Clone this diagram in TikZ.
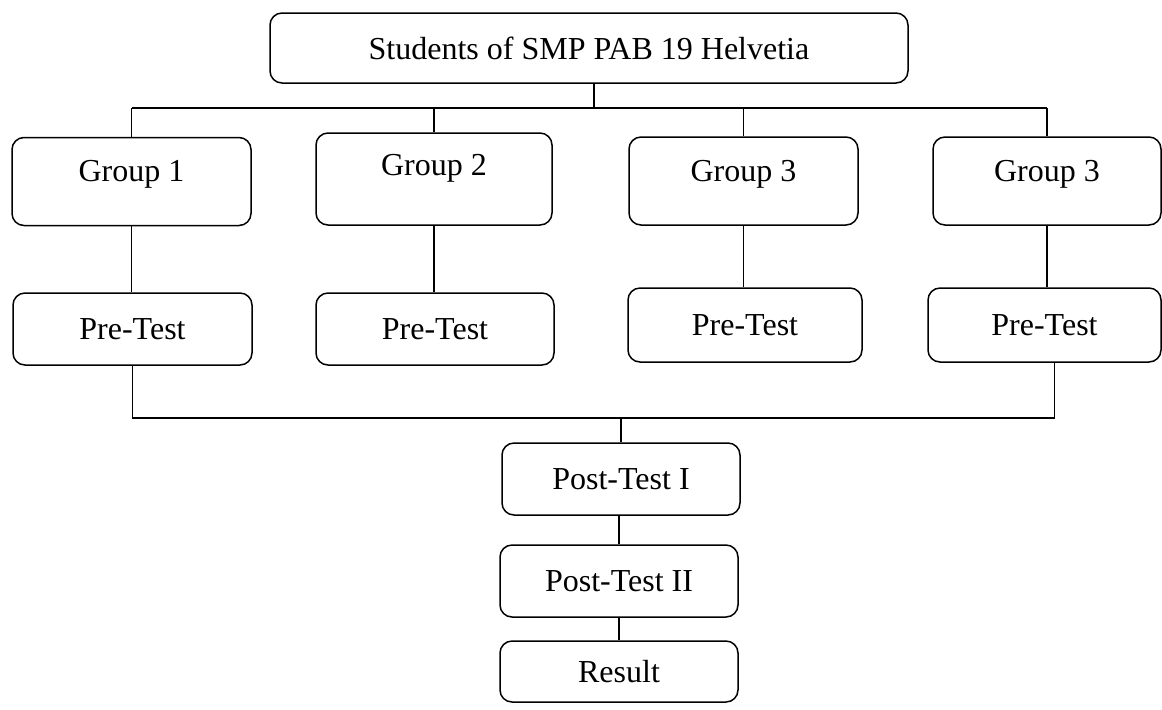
\documentclass[tikz,border=0pt]{standalone}
\usepackage{fontspec}
\setmainfont{Liberation Serif}
\begin{document}
\begin{tikzpicture}[x=0.5pt, y=-0.5pt, line width=0.75pt,
          font=\fontsize{16}{19}\selectfont,
          box/.style={draw, rounded corners=6pt, align=center, inner sep=0pt},
          grp/.style={box, text height=22pt, text depth=22pt},
          tst/.style={box, minimum height=36pt},
          link/.style={line width=0.6pt}]
        \useasboundingbox (0,0) rectangle (1162,709);
        \node[box, minimum width=319pt, minimum height=35pt] (root) at (589,48) {Students of SMP PAB 19 Helvetia};
        % groups
        \node[grp, minimum width=119.5pt] (g1) at (131.5,181.5) {Group 1};
        \node[grp, minimum width=118pt, text height=21pt, text depth=25pt] (g2) at (434,179) {Group 2};
        \node[grp, minimum width=114.5pt] (g3) at (743.5,181) {Group 3};
        \node[grp, minimum width=114pt] (g4) at (1047,181) {Group 3};
        % pre-tests
        \node[tst, minimum width=119.5pt] (p1) at (132.5,329) {Pre-Test};
        \node[tst, minimum width=119pt] (p2) at (435,329) {Pre-Test};
        \node[tst, minimum width=117pt, minimum height=37pt] (p3) at (745,325) {Pre-Test};
        \node[tst, minimum width=116.5pt, minimum height=37pt] (p4) at (1044.5,325) {Pre-Test};
        % post-tests
        \node[tst, minimum width=119pt] (t1) at (621,479) {Post-Test I};
        \node[tst, minimum width=119pt] (t2) at (619,581) {Post-Test II};
        \node[box, minimum width=119pt, minimum height=30.5pt] (res) at (619,671.5) {Result};
        \coordinate (busA) at (0,108);
        \coordinate (busB) at (0,418);
        \draw[link] ([xshift=2.5pt]root.south) -- ([xshift=2.5pt]root.south |- busA);
        \draw[link] (g1.north |- busA) -- (g4.north |- busA);
        \foreach \i in {1,...,4} {
          \draw[link] (g\i.north) -- (g\i.north |- busA);
          \draw[link] (g\i.south) -- (g\i.south |- p\i.north);
        }
        \draw[link] (p1.south) -- (p1.south |- busB) -- ([xshift=5pt]p4.south |- busB) -- ([xshift=5pt]p4.south);
        \draw[link] (t1.north) -- (t1.north |- busB);
        \draw[link] (t2.north) -- (t2.north |- t1.south);
        \draw[link] (res.north) -- (res.north |- t2.south);
      \end{tikzpicture}
\end{document}
